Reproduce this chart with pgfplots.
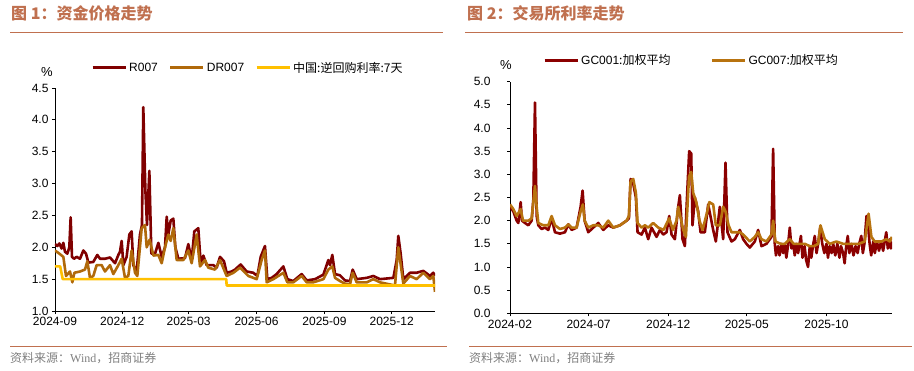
\documentclass[border=0pt]{standalone}
\usepackage{fontspec}
\setmainfont{Liberation Sans}
\newfontfamily\cjk{Noto Sans CJK SC}
\newfontfamily\serif{Liberation Serif}
\usepackage{pgfplots}
\pgfplotsset{compat=1.18}
\definecolor{ttl}{HTML}{C0704F}
\definecolor{rr}{HTML}{800000}
\definecolor{dr}{HTML}{B0690A}
\definecolor{rp}{HTML}{FFC000}
\definecolor{gc1}{HTML}{8B0000}
\definecolor{gc7}{HTML}{B8730F}
\pgfplotsset{
  common/.style={
    scale only axis,
    axis x line*=bottom, axis y line*=left,
    axis line style={black, line width=0.8pt},
    tick align=outside, major tick length=3pt,
    tick style={black, line width=0.8pt},
    /pgf/number format/assume math mode=true,
    ticklabel style={font=\fontsize{12}{14}\selectfont},
    yticklabel style={/pgf/number format/.cd,fixed,fixed zerofill,precision=1,/tikz/.cd},
    legend style={draw=none, fill=none, inner sep=0pt, font=\fontsize{12}{14}\selectfont, legend columns=-1},
    legend image code/.code={\draw[#1,line width=3pt] (0pt,0pt) -- (33pt,0pt);},
    every axis plot/.append style={line join=round},
  }
}
\begin{document}
\begin{tikzpicture}
\fill[white] (0pt,0pt) rectangle (914pt,-370pt);
\useasboundingbox (0pt,0pt) rectangle (914pt,-370pt);
% titles
\node[anchor=west,inner sep=0pt,text=ttl,font=\cjk\bfseries\fontsize{16}{18}\selectfont] at (11pt,-13pt) {图 1：资金价格走势};
\node[anchor=west,inner sep=0pt,text=ttl,font=\cjk\bfseries\fontsize{16}{18}\selectfont] at (467pt,-13pt) {图 2：交易所利率走势};
\draw[ttl,line width=1pt] (10pt,-32pt) -- (443pt,-32pt);
\draw[ttl,line width=1pt] (465pt,-32pt) -- (903pt,-32pt);
\draw[ttl,line width=1pt] (10pt,-346pt) -- (447pt,-346pt);
\draw[ttl,line width=1pt] (469pt,-346pt) -- (912pt,-346pt);
\node[anchor=west,inner sep=0pt,text=gray,font=\fontsize{12}{14}\selectfont] at (10pt,-358pt) {\cjk 资料来源：\serif Wind\cjk ，招商证券};
\node[anchor=west,inner sep=0pt,text=gray,font=\fontsize{12}{14}\selectfont] at (469pt,-358pt) {\cjk 资料来源：\serif Wind\cjk ，招商证券};
\node[font=\fontsize{13}{15}\selectfont] at (47pt,-72pt) {\%};
\node[font=\fontsize{13}{15}\selectfont] at (506pt,-65pt) {\%};

\begin{axis}[common,
  at={(55pt,-311pt)}, anchor=south west, width=380pt, height=223pt,
  xmin=0, xmax=514.7, ymin=1, ymax=4.5,
  xtick={0,91,181,273,365,456},
  xticklabels={2024-09,2024-12,2025-03,2025-06,2025-09,2025-12},
  ytick={1,1.5,2,2.5,3,3.5,4,4.5},
  legend style={at={(axis description cs:0.0947,1.09)}, anchor=west},
  legend style={/tikz/every even column/.append style={column sep=9pt}},
]
\addplot[rr, line width=2.6pt] coordinates {
(0,2.05)(3.2,2.02)(5.9,2.06)(9,1.98)(11.3,2.07)(13.5,1.93)(16.7,1.9)(19.4,2.0)(21.2,2.47)(23,1.85)
(25.7,1.82)(29.3,1.85)(33.9,1.82)(38.4,1.95)(42,1.9)(45.2,1.76)(51.9,1.77)(57.3,1.88)(61,1.82)(67.7,1.82)
(74.5,1.84)(81.3,1.75)(85.8,1.88)(88,1.93)(90.3,2.1)(92.6,1.72)(97,1.85)(100.7,2.2)(103.8,2.25)(106.1,1.72)
(110.6,1.62)(115.1,2.2)(117.8,2.35)(119.6,4.2)(122.4,2.9)(124.6,2.35)(127.8,3.2)(130.5,1.9)(135.5,1.9)(140,2.07)
(144.5,1.85)(149,2.0)(151.3,2.48)(153.5,2.2)(156.7,2.42)(160.3,2.45)(163,2.0)(167.1,1.82)(176.1,1.83)(180.6,2.05)
(185.1,1.8)(188.7,2.25)(194.1,2.3)(197.3,1.75)(200.9,1.87)(205.4,1.72)(214.5,1.72)(219,1.68)(223.5,1.85)(228.9,1.78)
(232.5,1.6)(239.3,1.62)(243.8,1.65)(251.5,1.73)(259.6,1.62)(268.6,1.6)(274.1,1.55)(278.6,1.85)(284.4,2.02)(287.6,1.5)
(293.5,1.52)(300.2,1.58)(309.3,1.7)(314.7,1.5)(322.8,1.47)(334.1,1.58)(340.9,1.48)(352.2,1.5)(363.5,1.57)(370.2,1.8)
(372.5,1.72)(375.6,1.88)(379.3,1.58)(386,1.56)(392.8,1.48)(399.6,1.47)(403.2,1.65)(408.6,1.5)(422.2,1.52)(431.2,1.55)
(440.2,1.5)(458.3,1.52)(462.8,1.8)(465,2.18)(468.2,1.9)(471.8,1.5)(480.8,1.6)(489.8,1.6)(498.9,1.63)(507.9,1.55)
(512.4,1.6)(514.7,1.55)};
\addlegendentry{R007}
\addplot[dr, line width=2.6pt] coordinates {
(0,1.95)(5.9,1.9)(11.3,1.85)(14.9,1.55)(20.3,1.62)(23.5,1.45)(26.2,1.6)(33.9,1.62)(40.6,1.65)(43.8,1.78)
(47.4,1.52)(51.9,1.55)(56.4,1.72)(63.2,1.72)(67.7,1.62)(74.5,1.72)(79,1.58)(85.8,1.72)(90.3,1.82)(94.8,1.52)
(99.3,1.55)(103.8,1.95)(108.4,1.6)(111.5,1.55)(117.4,2.3)(121.9,2.35)(124.2,2.0)(128.2,2.12)(133.3,1.87)(140,1.88)
(144.5,1.75)(149,2.0)(153.5,2.2)(156.7,2.1)(160.3,2.3)(164.8,1.8)(173.8,1.8)(180.6,1.95)(185.1,1.75)(191.9,2.2)
(196.4,1.7)(203.2,1.8)(207.7,1.68)(216.7,1.65)(223.5,1.8)(232.5,1.55)(241.6,1.6)(250.6,1.68)(261.9,1.55)(273.2,1.5)
(279.9,1.8)(284.4,1.95)(286.7,1.45)(295.7,1.5)(309.3,1.6)(314.7,1.45)(322.8,1.45)(334.1,1.55)(340.9,1.45)(349.9,1.45)
(363.5,1.5)(370.2,1.65)(375.6,1.7)(379.3,1.52)(386,1.47)(392.8,1.43)(399.6,1.42)(403.2,1.6)(408.6,1.45)(422.2,1.45)
(431.2,1.5)(440.2,1.45)(460.5,1.4)(465,2.0)(471.8,1.43)(480.8,1.55)(489.8,1.5)(498.9,1.6)(507.9,1.5)(512.4,1.55)
(514.7,1.3)};
\addlegendentry{DR007}
\addplot[rp, line width=2.6pt] coordinates {
(0,1.7)(7,1.7)(10.5,1.5)(232,1.5)(232.5,1.4)(514.7,1.4)};
\addlegendentry{\cjk 中国:逆回购利率:7天}
\end{axis}

\begin{axis}[common,
  at={(510pt,-313.3pt)}, anchor=south west, width=382pt, height=231.6pt,
  xmin=0, xmax=734, ymin=0, ymax=5,
  xtick={0,151,304,455,608},
  xticklabels={2024-02,2024-07,2024-12,2025-05,2025-10},
  ytick={0,0.5,1,1.5,2,2.5,3,3.5,4,4.5,5},
  yticklabel style={/tikz/xshift=-13pt},
  legend style={at={(axis description cs:0.0864,1.0937)}, anchor=west},
  legend style={/tikz/every even column/.append style={column sep=38pt}},
]
\addplot[gc1, line width=2.6pt] coordinates {
(0,2.3)(6.4,2.2)(12.8,2.0)(16,1.95)(20.5,2.4)(23,2.0)(28.8,1.95)(35.2,1.9)(41.6,2.0)(44.8,2.45)
(48,4.55)(51.2,2.1)(54.4,1.9)(60.8,1.82)(67.2,1.85)(73.6,1.8)(80,2.05)(86.4,1.75)(96,1.72)(105.6,1.75)
(112,1.92)(118.4,1.8)(128,1.85)(135.7,2.3)(139.5,2.65)(143.4,2.0)(150.4,1.75)(160,1.85)(169.6,1.95)(179.2,1.8)
(188.8,1.9)(198.4,1.85)(211.2,1.9)(224,2.0)(228.5,2.05)(231.7,2.9)(236.8,2.8)(241.9,2.5)(245.1,1.75)(252.8,1.7)
(259.2,1.85)(265.6,1.6)(272,1.85)(281.6,1.65)(288,1.8)(294.4,1.7)(300.8,1.75)(305.9,2.1)(310.4,1.7)(316.8,1.6)
(323.2,2.3)(326.4,2.55)(331.5,1.6)(336,1.45)(340.5,2.6)(344.3,3.5)(348.2,3.45)(350.7,1.9)(355.2,2.5)(361.6,2.2)
(366.1,1.75)(374.4,1.75)(380.8,2.35)(390.4,1.8)(395.5,1.55)(403.2,2.3)(409.6,1.6)(414.1,3.25)(417.9,1.75)(425.6,1.55)
(432,1.6)(441.6,1.8)(448,1.6)(454.4,1.5)(460.8,1.42)(470.4,1.55)(476.8,1.8)(483.2,1.45)(492.8,1.5)(502.4,1.65)
(505.6,3.55)(508.8,1.5)(511,1.25)(515.2,1.45)(518,1.25)(521.6,1.5)(525,1.3)(528,1.5)(531,1.2)(534,1.45)
(537.6,1.85)(540.8,1.4)(544,1.5)(547.2,1.25)(550,1.5)(553.6,1.3)(559,1.67)(562,1.2)(566,1.45)(569,1.15)
(572.7,1.0)(576,1.45)(579,1.2)(582,1.45)(585.6,1.67)(589,1.3)(592,1.5)(596,1.85)(600,1.5)(604,1.3)
(608,1.5)(611,1.2)(614,1.45)(618,1.3)(621,1.5)(625,1.25)(629,1.5)(633,1.2)(636,1.45)(640,1.3)
(643,1.08)(646,1.45)(649,1.67)(652,1.3)(656,1.5)(660,1.25)(664,1.45)(668,1.3)(671,1.5)(675,1.67)
(678,1.3)(681,1.5)(685,2.1)(688,1.9)(691,1.5)(694,1.25)(698,1.55)(701,1.3)(705,1.55)(709,1.35)
(713,1.55)(717,1.35)(720,1.55)(723,1.75)(726,1.4)(730,1.6)(732,1.4)(734,1.55)};
\addlegendentry{GC001{\cjk :加权平均}}
\addplot[gc7, line width=2.6pt] coordinates {
(0,2.35)(6.4,2.25)(12.8,2.1)(20.5,2.25)(25,2.0)(35.2,2.0)(41.6,2.05)(44.8,2.4)(48,2.75)(51.2,2.3)
(54.4,1.95)(64,1.9)(73.6,1.9)(80,2.1)(86.4,1.9)(96,1.82)(105.6,1.85)(112,1.92)(118.4,1.85)(128,1.85)
(135.7,2.2)(140,2.35)(143.4,2.0)(150.4,1.85)(160,1.9)(169.6,1.9)(179.2,1.85)(188.8,2.0)(198.4,1.85)(211.2,1.9)
(224,2.0)(228.5,2.1)(231.7,2.85)(236.8,2.9)(241.9,2.6)(245.1,1.95)(252.8,1.85)(259.2,1.9)(265.6,1.85)(275,1.95)
(285,1.85)(295,1.8)(305.9,2.05)(313,1.8)(320,2.0)(323.2,2.3)(327,2.1)(333,1.8)(338,1.65)(344,2.95)
(348.2,3.05)(352,2.6)(358,2.4)(364,2.0)(370,1.8)(378,2.15)(383,2.4)(390.4,2.35)(395.5,1.9)(403.2,1.9)
(409.6,2.3)(414.1,2.2)(420,1.9)(425.6,1.75)(432,1.75)(441.6,1.75)(448,1.7)(460.8,1.55)(470.4,1.65)(476.8,1.75)
(483.2,1.6)(492.8,1.55)(502.4,1.7)(505.6,2.0)(510,1.55)(520,1.5)(528,1.5)(537.6,1.6)(545,1.5)(556,1.5)
(566.4,1.5)(576,1.45)(584,1.45)(592,1.5)(596.5,1.9)(604.8,1.6)(614.4,1.5)(627.2,1.55)(640,1.5)(656,1.5)
(670,1.5)(681.6,1.55)(689,2.15)(694.4,1.65)(700.8,1.55)(713.6,1.55)(723.2,1.6)(729.6,1.55)(734,1.65)};
\addlegendentry{GC007{\cjk :加权平均}}
\end{axis}
\end{tikzpicture}
\end{document}
